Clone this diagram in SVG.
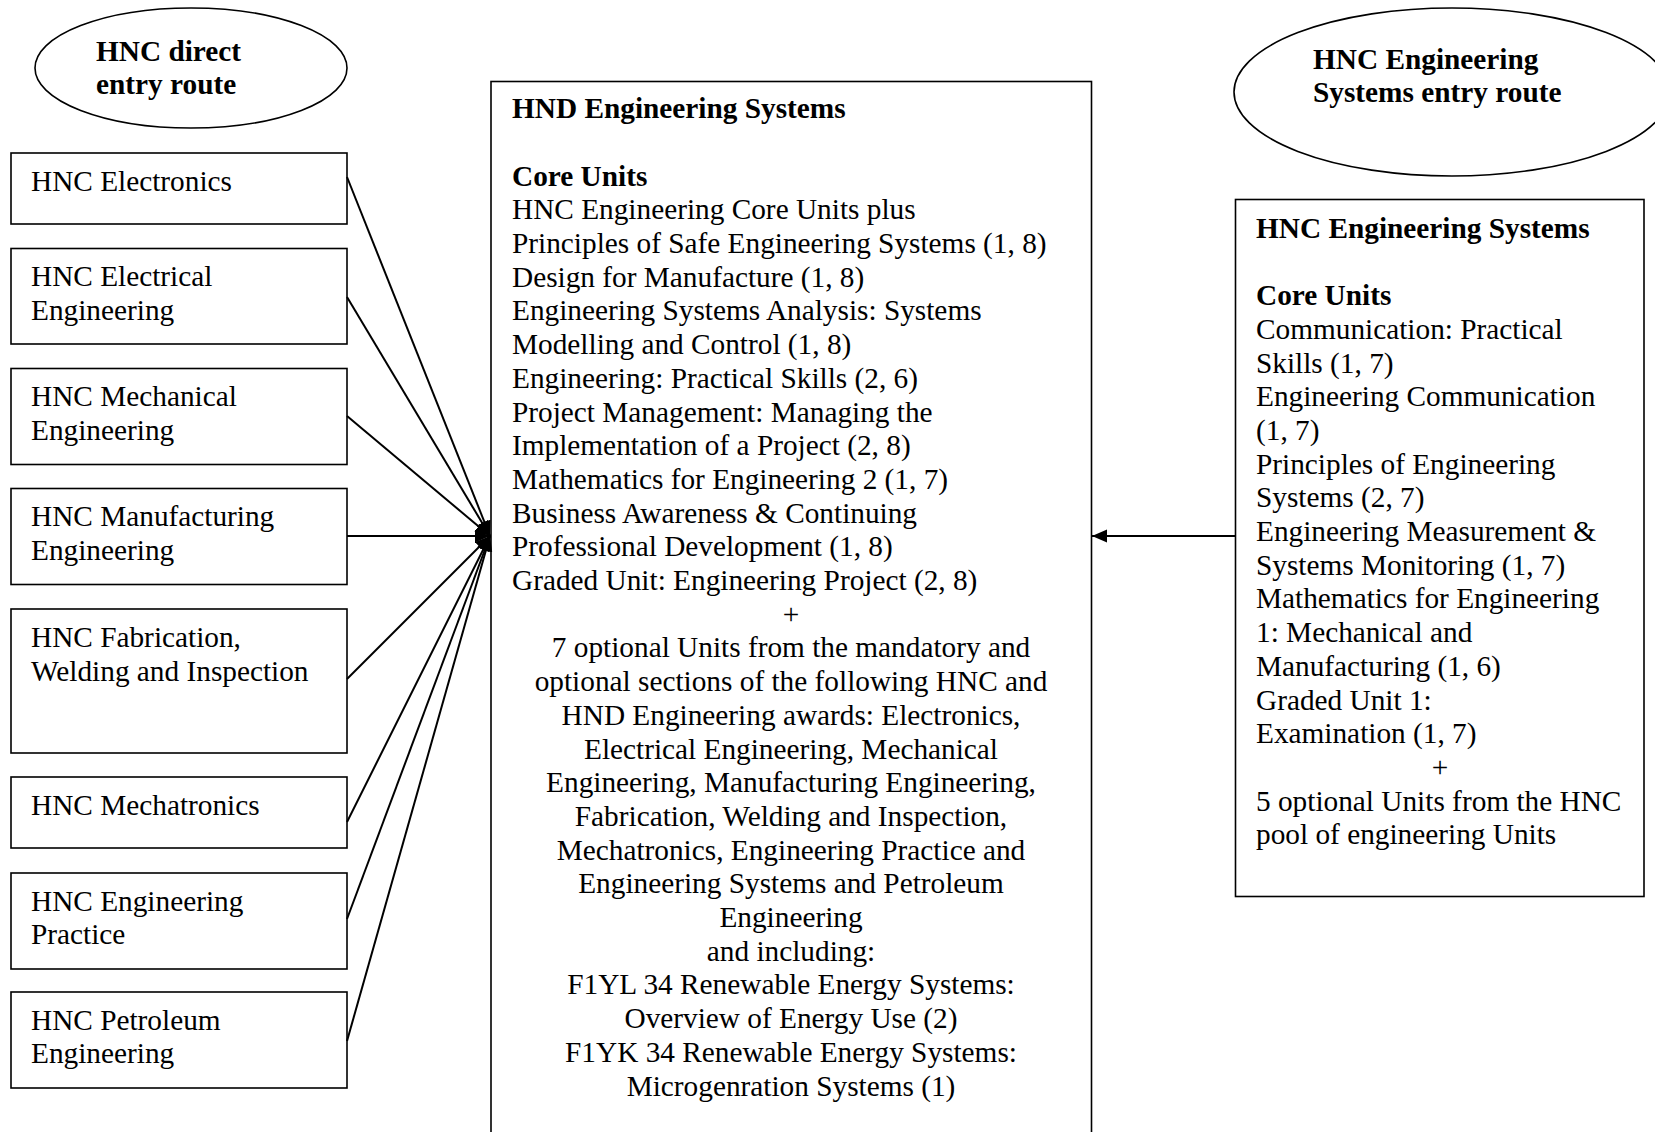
<svg xmlns="http://www.w3.org/2000/svg" width="1655" height="1132" viewBox="0 0 1655 1132">
<defs>
<style>
.t{font-family:"Liberation Serif","Times New Roman",serif;font-size:29.3px;fill:#000}
.b{font-weight:bold}
.c{text-anchor:middle}
.box{fill:#fff;stroke:#000;stroke-width:1.6}
.ell{fill:#fff;stroke:#000;stroke-width:1.6}
.con{stroke:#000;stroke-width:2;fill:none}
</style>
<marker id="ah" markerUnits="userSpaceOnUse" markerWidth="16" markerHeight="14" refX="15" refY="6.5" orient="auto">
<path d="M0,0 L15,6.5 L0,13 z" fill="#000"/>
</marker>
</defs>
<rect x="0" y="0" width="1655" height="1132" fill="#fff"/>

<g id="ellipse-direct">
<ellipse class="ell" cx="191" cy="68" rx="156" ry="60"/>
<text class="t b" x="96" y="61">HNC direct</text>
<text class="t b" x="96" y="94.3">entry route</text>
</g>

<g id="ellipse-systems">
<ellipse class="ell" cx="1452" cy="92" rx="218" ry="84"/>
<text class="t b" x="1313" y="69">HNC Engineering</text>
<text class="t b" x="1313" y="101.5">Systems entry route</text>
</g>

<g id="hnc-electronics">
<rect class="box" x="11" y="153" width="336" height="71"/>
<text class="t" x="31" y="190.5">HNC Electronics</text>
</g>
<g id="hnc-electrical">
<rect class="box" x="11" y="248.5" width="336" height="95.5"/>
<text class="t" x="31" y="286">HNC Electrical</text>
<text class="t" x="31" y="319.7">Engineering</text>
</g>
<g id="hnc-mechanical">
<rect class="box" x="11" y="368.5" width="336" height="96"/>
<text class="t" x="31" y="406">HNC Mechanical</text>
<text class="t" x="31" y="439.7">Engineering</text>
</g>
<g id="hnc-manufacturing">
<rect class="box" x="11" y="488.5" width="336" height="96"/>
<text class="t" x="31" y="526">HNC Manufacturing</text>
<text class="t" x="31" y="559.7">Engineering</text>
</g>
<g id="hnc-fabrication">
<rect class="box" x="11" y="609" width="336" height="144"/>
<text class="t" x="31" y="647">HNC Fabrication,</text>
<text class="t" x="31" y="680.7">Welding and Inspection</text>
</g>
<g id="hnc-mechatronics">
<rect class="box" x="11" y="777" width="336" height="71"/>
<text class="t" x="31" y="814.5">HNC Mechatronics</text>
</g>
<g id="hnc-practice">
<rect class="box" x="11" y="873" width="336" height="96"/>
<text class="t" x="31" y="910.5">HNC Engineering</text>
<text class="t" x="31" y="944.2">Practice</text>
</g>
<g id="hnc-petroleum">
<rect class="box" x="11" y="992" width="336" height="96"/>
<text class="t" x="31" y="1029.5">HNC Petroleum</text>
<text class="t" x="31" y="1063.2">Engineering</text>
</g>

<g id="hnd-engineering-systems">
<rect class="box" x="491" y="81.5" width="600.5" height="1060"/>
<text class="t b" x="512" y="118.2">HND Engineering Systems</text>
<text class="t b" x="512" y="185.6">Core Units</text>
<text class="t" x="512" y="219.3">HNC Engineering Core Units plus</text>
<text class="t" x="512" y="253">Principles of Safe Engineering Systems (1, 8)</text>
<text class="t" x="512" y="286.7">Design for Manufacture (1, 8)</text>
<text class="t" x="512" y="320.4">Engineering Systems Analysis: Systems</text>
<text class="t" x="512" y="354.1">Modelling and Control (1, 8)</text>
<text class="t" x="512" y="387.8">Engineering: Practical Skills (2, 6)</text>
<text class="t" x="512" y="421.5">Project Management: Managing the</text>
<text class="t" x="512" y="455.2">Implementation of a Project (2, 8)</text>
<text class="t" x="512" y="488.9">Mathematics for Engineering 2 (1, 7)</text>
<text class="t" x="512" y="522.6">Business Awareness &amp; Continuing</text>
<text class="t" x="512" y="556.3">Professional Development (1, 8)</text>
<text class="t" x="512" y="590">Graded Unit: Engineering Project (2, 8)</text>
<text class="t c" x="791" y="623.7">+</text>
<text class="t c" x="791" y="657.4">7 optional Units from the mandatory and</text>
<text class="t c" x="791" y="691.1">optional sections of the following HNC and</text>
<text class="t c" x="791" y="724.8">HND Engineering awards: Electronics,</text>
<text class="t c" x="791" y="758.5">Electrical Engineering, Mechanical</text>
<text class="t c" x="791" y="792.2">Engineering, Manufacturing Engineering,</text>
<text class="t c" x="791" y="825.9">Fabrication, Welding and Inspection,</text>
<text class="t c" x="791" y="859.6">Mechatronics, Engineering Practice and</text>
<text class="t c" x="791" y="893.3">Engineering Systems and Petroleum</text>
<text class="t c" x="791" y="927">Engineering</text>
<text class="t c" x="791" y="960.7">and including:</text>
<text class="t c" x="791" y="994.4">F1YL 34 Renewable Energy Systems:</text>
<text class="t c" x="791" y="1028.1">Overview of Energy Use (2)</text>
<text class="t c" x="791" y="1061.8">F1YK 34 Renewable Energy Systems:</text>
<text class="t c" x="791" y="1095.5">Microgenration Systems (1)</text>
</g>

<g id="hnc-engineering-systems">
<rect class="box" x="1235.5" y="199.5" width="408.5" height="697"/>
<text class="t b" x="1256" y="237.7">HNC Engineering Systems</text>
<text class="t b" x="1256" y="305.1">Core Units</text>
<text class="t" x="1256" y="338.8">Communication: Practical</text>
<text class="t" x="1256" y="372.5">Skills (1, 7)</text>
<text class="t" x="1256" y="406.2">Engineering Communication</text>
<text class="t" x="1256" y="439.9">(1, 7)</text>
<text class="t" x="1256" y="473.6">Principles of Engineering</text>
<text class="t" x="1256" y="507.3">Systems (2, 7)</text>
<text class="t" x="1256" y="541">Engineering Measurement &amp;</text>
<text class="t" x="1256" y="574.7">Systems Monitoring (1, 7)</text>
<text class="t" x="1256" y="608.4">Mathematics for Engineering</text>
<text class="t" x="1256" y="642.1">1: Mechanical and</text>
<text class="t" x="1256" y="675.8">Manufacturing (1, 6)</text>
<text class="t" x="1256" y="709.5">Graded Unit 1:</text>
<text class="t" x="1256" y="743.2">Examination (1, 7)</text>
<text class="t c" x="1440" y="776.9">+</text>
<text class="t" x="1256" y="810.6">5 optional Units from the HNC</text>
<text class="t" x="1256" y="844.3">pool of engineering Units</text>
</g>

<g id="connectors">
<line class="con" x1="347" y1="177" x2="490" y2="536" marker-end="url(#ah)"/>
<line class="con" x1="347" y1="297" x2="490" y2="536" marker-end="url(#ah)"/>
<line class="con" x1="347" y1="416" x2="490" y2="536" marker-end="url(#ah)"/>
<line class="con" x1="347" y1="536" x2="490" y2="536" marker-end="url(#ah)"/>
<line class="con" x1="347" y1="679" x2="490" y2="536" marker-end="url(#ah)"/>
<line class="con" x1="347" y1="822" x2="490" y2="536" marker-end="url(#ah)"/>
<line class="con" x1="347" y1="919" x2="490" y2="536" marker-end="url(#ah)"/>
<line class="con" x1="347" y1="1041" x2="490" y2="536" marker-end="url(#ah)"/>
<line class="con" x1="1235" y1="536" x2="1092" y2="536" marker-end="url(#ah)"/>
</g>
</svg>
